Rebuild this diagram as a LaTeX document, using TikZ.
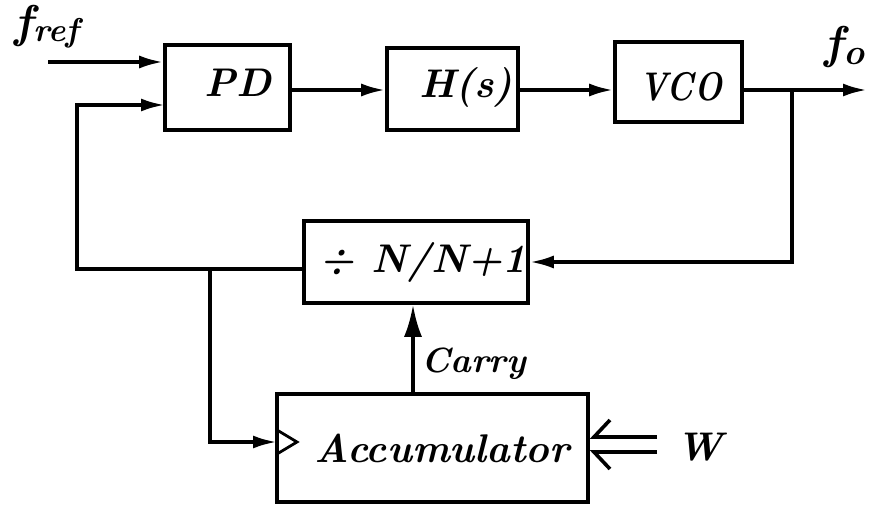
\documentclass[tikz,border=0pt]{standalone}
\usepackage{graphicx}
\usetikzlibrary{arrows.meta}
\begin{document}
\begin{tikzpicture}[x=1pt,y=-1pt,line width=3.6pt,
  blk/.style={draw,line width=3.6pt,inner sep=0pt},
  lab/.style={inner sep=0pt,anchor=base,font=\fontsize{40}{44}\selectfont\bfseries\itshape},
  small/.style={inner sep=0pt,anchor=base,font=\fontsize{35}{38}\selectfont\bfseries\itshape},
  arr/.style={-{Latex[length=24pt,width=13pt]}},
  barbU/.style={-{Straight Barb[right,length=16pt,width=34pt]}},
  barbL/.style={-{Straight Barb[left,length=16pt,width=34pt]}}]
\useasboundingbox (0,0) rectangle (875,505);
% blocks
\node[blk,minimum width=125pt,minimum height=85pt] (pd) at (227.5,87.5) {};
\node[blk,minimum width=131pt,minimum height=82pt] (h) at (452.5,89) {};
\node[blk,minimum width=127pt,minimum height=80pt] (vco) at (678.5,82) {};
\node[blk,minimum width=224pt,minimum height=82pt] (n) at (416,262) {};
\node[blk,minimum width=311pt,minimum height=108pt] (acc) at (432.5,448) {};
% texts
\node[lab] (tpd) at (238,97) {PD};
\node[lab] (th) at (466,98) {H(s)};
\node[lab] (tvco) at (681,101) {\scalebox{0.82}[1]{VCO}};
\node[lab] (tn) at (423,272) {÷ N/N+1};
\node[lab] (tacc) at (442,462) {Accumulator};
\node[small] (tcar) at (474,372) {Carry};
\node[lab] (tw) at (700,460) {W};
\node[lab,anchor=base west] (tfref) at (13,38) {{\fontsize{46}{46}\selectfont f}\raisebox{-4pt}{\fontsize{33}{33}\selectfont ref}};
\node[lab,anchor=base west] (tfo) at (823,59) {{\fontsize{46}{46}\selectfont f}\raisebox{-6pt}{\fontsize{36}{36}\selectfont o}};
% coordinates
\coordinate (fin) at (48,62);
\coordinate (pdfb) at (165,105);
\coordinate (fb) at (77,269);
\coordinate (br) at (792,90);
\coordinate (fout) at (867,90);
\coordinate (br2) at (210,269);
\coordinate (clk) at (277,442);
\coordinate (car) at (413,360);
\coordinate (w1) at (657,437);
\coordinate (w2) at (657,452);
% connectors
\draw[arr] (fin) -- (fin -| pd.west);
\draw[arr] (pd.east |- 0,90) -- (h.west |- 0,90);
\draw[arr] (h.east |- 0,90) -- (vco.west |- 0,90);
\draw[arr] (vco.east |- br) -- (fout);
\draw[arr] (br) |- (n.east);
\draw[arr] (n.west |- fb) -- (fb) |- (pdfb);
\draw[arr] (br2) |- (clk);
\draw[line width=2.8pt,line join=miter] (277,430) -- (297,442) -- (277,454);
\draw[-{Latex[length=32pt,width=18pt]}] (acc.north -| car) -- (n.south -| car);
\draw[barbU] (w1) -- (w1 -| acc.east);
\draw[barbL] (w2) -- (w2 -| acc.east);
\end{tikzpicture}
\end{document}
